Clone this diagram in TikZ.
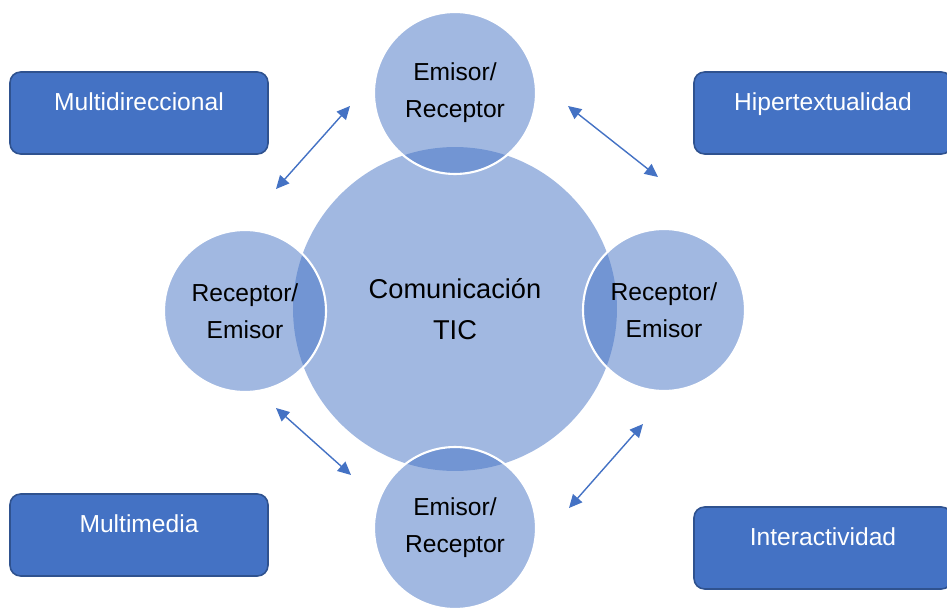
\documentclass[tikz,border=0pt]{standalone}
\usepackage{fontspec}
\setmainfont{Liberation Sans}
\usepackage{tikz}
\usetikzlibrary{arrows.meta}

\definecolor{ticblue}{HTML}{4472C4}
\definecolor{ticedge}{HTML}{2F528F}

\tikzset{
  feature/.style={draw=ticedge, line width=0.9pt, fill=ticblue, rounded corners=6pt,
    minimum width=5.16cm, minimum height=1.64cm, text=white,
    text height=10pt, text depth=12.5pt, font=\fontsize{14}{17}\selectfont},
  actor/.style={circle, fill=ticblue, fill opacity=0.5, text opacity=1,
    draw=white, draw opacity=1, line width=1.2pt, minimum size=3.24cm,
    inner sep=0pt, align=center, font=\fontsize{14}{21}\selectfont},
  flow/.style={ticblue, line width=0.8pt, {Triangle[length=7.5pt,width=7pt]}-{Triangle[length=7.5pt,width=7pt]}}
}

\begin{document}
\begin{tikzpicture}[x=0.02cm, y=-0.02cm]
    \useasboundingbox (0,0) rectangle (947,608);
    % centre
    \node[circle, fill=ticblue, fill opacity=0.5, text opacity=1, minimum size=6.48cm,
      align=center, font=\fontsize{15.5}{23}\selectfont] (tic) at (455,309) {Comunicación\\TIC};
    % the four actors round it
    \node[actor] (top) at (455,93) {Emisor/\\Receptor};
    \node[actor] (right) at (664,310) {Receptor/\\Emisor};
    \node[actor] (left) at (245,311) {Receptor/\\Emisor};
    \node[actor] (bottom) at (455,528) {Emisor/\\Receptor};
    % features
    \node[feature] (multi) at (139,113) {Multidireccional};
    \node[feature] (hiper) at (823,113) {Hipertextualidad};
    \node[feature] (media) at (139,535) {Multimedia};
    \node[feature] (inter) at (823,548) {Interactividad};
    % arrows between the actors
    \coordinate (tl1) at (276,189);
    \coordinate (tl2) at (350,106);
    \coordinate (tr1) at (568,106);
    \coordinate (tr2) at (658,177);
    \coordinate (bl1) at (276,408);
    \coordinate (bl2) at (351,475);
    \coordinate (br1) at (569,508);
    \coordinate (br2) at (643,424);
    \draw[flow] (tl1) -- (tl2);
    \draw[flow] (tr1) -- (tr2);
    \draw[flow] (bl1) -- (bl2);
    \draw[flow] (br1) -- (br2);
\end{tikzpicture}
\end{document}
